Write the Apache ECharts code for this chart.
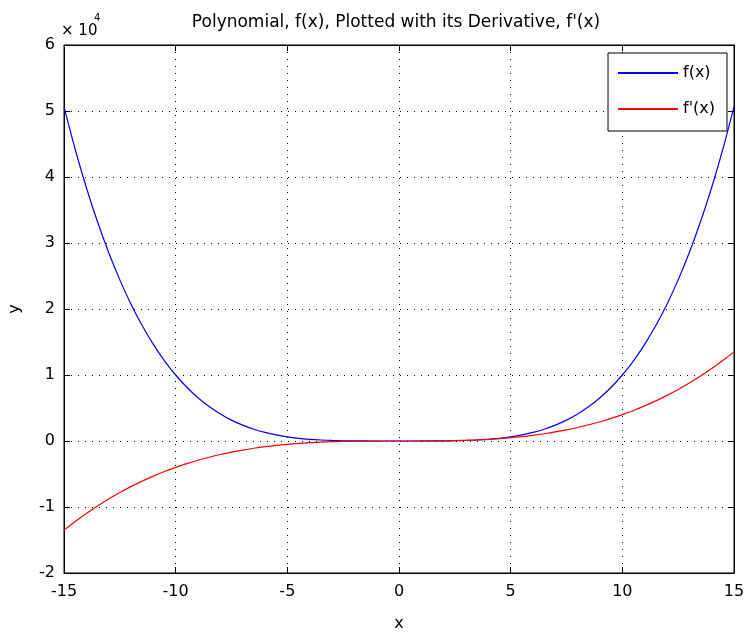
<!DOCTYPE html>
<html><head><meta charset="utf-8">
<script src="https://cdn.jsdelivr.net/npm/echarts@6/dist/echarts.min.js"></script>
<style>html,body{margin:0;padding:0;background:#fff}#c{width:745px;height:633px}</style>
</head><body><div id="c"></div>
<script>
// x samples (step 0.5, from 0 to 15; mirrored for negative x)
const xHalf = [0,0.5,1,1.5,2,2.5,3,3.5,4,4.5,5,5.5,6,6.5,7,7.5,8,8.5,9,9.5,10,10.5,11,11.5,12,12.5,13,13.5,14,14.5,15];
// f(x) values read for x = 0 .. 15 (curve is symmetric)
const fHalf = [0,0,1,5,16,39,81,150,256,410,625,915,1296,1785,2401,3164,4096,5220,6561,8145,10000,12155,14641,17490,20736,24414,28561,33215,38416,44205,50625];
// f'(x) values read for x = 0 .. 15 (curve is antisymmetric)
const dHalf = [0,0.5,4,13.5,32,62.5,108,171.5,256,364.5,500,665.5,864,1098.5,1372,1687.5,2048,2456.5,2916,3429.5,4000,4630.5,5324,6083.5,6912,7812.5,8788,9841.5,10976,12194.5,13500];
const yTicks = [-2,-1,0,1,2,3,4,5,6];
const xTicks = [-15,-10,-5,0,5,10,15];

const fData = [], dData = [];
for (let i = xHalf.length - 1; i > 0; i--) { fData.push([-xHalf[i], fHalf[i]]); dData.push([-xHalf[i], -dHalf[i]]); }
for (let i = 0; i < xHalf.length; i++) { fData.push([xHalf[i], fHalf[i]]); dData.push([xHalf[i], dHalf[i]]); }

const FONT = 'DejaVu Sans';
const chart = echarts.init(document.getElementById('c'));
chart.setOption({
  animation: false,
  backgroundColor: '#fff',
  textStyle: { fontFamily: FONT, color: '#000' },
  title: {
    text: "Polynomial, f(x), Plotted with its Derivative, f'(x)",
    left: 391, top: 9, textAlign: 'center',
    textStyle: { fontFamily: FONT, fontSize: 17, fontWeight: 'normal', color: '#000' }
  },
  graphic: [{
    type: 'text', left: 61, top: 24,
    style: { text: '\u00d7 10', fontFamily: FONT, fontSize: 15, fill: '#000' }
  }, {
    type: 'text', left: 94, top: 13,
    style: { text: '4', fontFamily: FONT, fontSize: 10, fill: '#000' }
  }],
  legend: {
    orient: 'vertical', right: 18, top: 53,
    backgroundColor: '#fff', borderColor: '#000', borderWidth: 1,
    padding: [12, 12, 14, 10], itemGap: 20,
    itemWidth: 60, itemHeight: 2, icon: 'rect',
    textStyle: { fontFamily: FONT, fontSize: 16, color: '#000' },
    data: ['f(x)', "f'(x)"]
  },
  grid: { left: 64, right: 11, top: 45, bottom: 60, outerBoundsMode: 'none', containLabel: false,
    show: true, borderColor: '#000', borderWidth: 1, backgroundColor: '#fff' },
  xAxis: [{
    type: 'value', min: -15, max: 15, interval: 5,
    name: 'x', nameLocation: 'middle', nameGap: 43,
    nameTextStyle: { fontFamily: FONT, fontSize: 16, color: '#000' },
    axisLine: { show: true, onZero: false, lineStyle: { color: '#000' } },
    axisTick: { inside: true, length: 6, lineStyle: { color: '#000' } },
    axisLabel: { fontFamily: FONT, fontSize: 16, color: '#000', margin: 11 },
    splitLine: { show: true, lineStyle: { color: '#000', type: [1, 6], width: 1 } }
  }, {
    type: 'value', position: 'top', min: -15, max: 15, interval: 5,
    axisLine: { show: true, onZero: false, lineStyle: { color: '#000' } },
    axisTick: { inside: true, length: 6, lineStyle: { color: '#000' } },
    axisLabel: { show: false }, splitLine: { show: false }
  }],
  yAxis: [{
    type: 'value', min: -20000, max: 60000, interval: 10000,
    name: 'y', nameLocation: 'middle', nameGap: 41,
    nameTextStyle: { fontFamily: FONT, fontSize: 16, color: '#000' },
    axisLine: { show: true, onZero: false, lineStyle: { color: '#000' } },
    axisTick: { inside: true, length: 6, lineStyle: { color: '#000' } },
    axisLabel: { fontFamily: FONT, fontSize: 16, color: '#000', margin: 9,
      formatter: v => String(yTicks[Math.round(v / 10000) + 2]) },
    splitLine: { show: true, lineStyle: { color: '#000', type: [1, 6], width: 1 } }
  }, {
    type: 'value', position: 'right', min: -20000, max: 60000, interval: 10000,
    axisLine: { show: true, onZero: false, lineStyle: { color: '#000' } },
    axisTick: { inside: true, length: 6, lineStyle: { color: '#000' } },
    axisLabel: { show: false }, splitLine: { show: false }
  }],
  series: [{
    name: 'f(x)', type: 'line', data: fData, showSymbol: false, symbol: 'none',
    smooth: 0.3, lineStyle: { color: '#0000ff', width: 1.2 }, itemStyle: { color: '#0000ff' }
  }, {
    name: "f'(x)", type: 'line', data: dData, showSymbol: false, symbol: 'none',
    smooth: 0.3, lineStyle: { color: '#ff0000', width: 1.2 }, itemStyle: { color: '#ff0000' }
  }]
});
</script></body></html>
